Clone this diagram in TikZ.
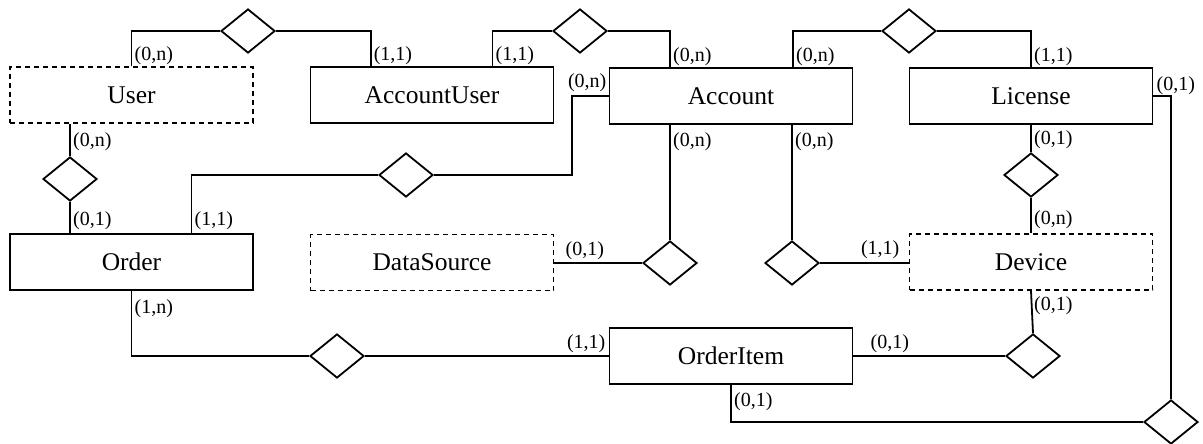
\documentclass[tikz,border=0pt]{standalone}
\usepackage{fontspec}
\setmainfont{Liberation Serif}
\usetikzlibrary{shapes.geometric}

\tikzset{
  entity/.style={draw, line width=1.8pt, minimum width=243pt, minimum height=56pt,
    inner sep=0pt, font=\fontsize{25.5}{30}\selectfont},
  weakentity/.style={entity, dash pattern=on 5pt off 4pt},
  rel/.style={draw, diamond, line width=1.8pt, minimum width=54pt, minimum height=44pt,
    inner sep=0pt},
  card/.style={inner sep=1pt, font=\fontsize{20}{24}\selectfont},
  link/.style={line width=1.8pt},
}

\begin{document}
\begin{tikzpicture}[x=1pt, y=-1pt]
\useasboundingbox (0,0) rectangle (1203,444);

% entities
\node[weakentity] (user)        at (131.5, 95)  {User};
\node[entity]     (accountuser) at (432, 95)    {AccountUser};
\node[entity]     (account)     at (731, 96)    {Account};
\node[entity]     (license)     at (1031, 96)   {License};
\node[entity]     (order)       at (131.5, 262) {Order};
\node[weakentity] (datasource)  at (432, 262.5) {DataSource};
\node[weakentity] (device)      at (1031, 262)  {Device};
\node[entity]     (orderitem)   at (731, 356)   {OrderItem};

% relationships
\node[rel] (d1)  at (248, 31)   {};
\node[rel] (d2)  at (580, 31)   {};
\node[rel] (d3)  at (909, 31)   {};
\node[rel] (d4)  at (70, 179)   {};
\node[rel] (d5)  at (406, 175)  {};
\node[rel] (d6)  at (670, 263)  {};
\node[rel] (d7)  at (792, 263)  {};
\node[rel] (d8)  at (1031, 175) {};
\node[rel] (d9)  at (337, 356)  {};
\node[rel] (d10) at (1033, 356) {};
\node[rel] (d11) at (1171, 422) {};

% attachment points on the entity borders
\coordinate (au1)  at ([xshift=61pt]accountuser.north west);
\coordinate (au2)  at ([xshift=-62pt]accountuser.north east);
\coordinate (acc1) at ([xshift=-61pt]account.north);
\coordinate (acc2) at ([xshift=62pt]account.north);
\coordinate (us)   at (user.south -| d4.north);
\coordinate (on1)  at (order.north -| d4.south);
\coordinate (on2)  at ([xshift=60pt]order.north);
\coordinate (bend) at ([xshift=-37pt]account.west);
\coordinate (as1)  at (account.south -| d6.north);
\coordinate (as2)  at (account.south -| d7.north);
\coordinate (dse)  at (d6.west -| datasource.east);
\coordinate (dvw)  at (d7.east -| device.west);

% connectors
\draw[link] (user.north) |- (d1.west);
\draw[link] (d1.east) -| (au1);
\draw[link] (au2) |- (d2.west);
\draw[link] (d2.east) -| (acc1);
\draw[link] (acc2) |- (d3.west);
\draw[link] (d3.east) -| (license.north);
\draw[link] (us) -- (d4.north);
\draw[link] (d4.south) -- (on1);
\draw[link] (on2) |- (d5.west);
\draw[link] (d5.east) -| (bend) -- (account.west);
\draw[link] (as1) -- (d6.north);
\draw[link] (d6.west) -- (dse);
\draw[link] (as2) -- (d7.north);
\draw[link] (d7.east) -- (dvw);
\draw[link] (license.south) -- (d8.north);
\draw[link] (d8.south) -- (device.north);
\draw[link] (order.south) |- (d9.west);
\draw[link] (d9.east) -- (orderitem.west);
\draw[link] (orderitem.east) -- (d10.west);
\draw[link] (device.south) -- (d10.north);
\draw[link] (orderitem.south) |- (d11.west);
\draw[link] (license.east) -| (d11.north);

% cardinalities
\node[card, anchor=south west, xshift=2pt] (c1)  at (user.north)    {(0,n)};
\node[card, anchor=south west, xshift=2pt] (c2)  at (au1)           {(1,1)};
\node[card, anchor=south west, xshift=2pt] (c3)  at (au2)           {(1,1)};
\node[card, anchor=south west, xshift=2pt] (c4)  at (acc1)          {(0,n)};
\node[card, anchor=south west, xshift=2pt] (c5)  at (acc2)          {(0,n)};
\node[card, anchor=south west, xshift=2pt] (c6)  at (license.north) {(1,1)};
\node[card, anchor=north west, xshift=2pt, yshift=-8pt] (c7) at (us) {(0,n)};
\node[card, anchor=south west, xshift=2pt, yshift=2pt] (c8) at (on1) {(0,1)};
\node[card, anchor=south west, xshift=2pt, yshift=2pt] (c9) at (on2) {(1,1)};
\node[card, anchor=south east, xshift=-1pt, yshift=3pt] (c10) at (account.west) {(0,n)};
\node[card, anchor=north west, xshift=2pt, yshift=-7pt] (c11) at (as1) {(0,n)};
\node[card, anchor=north west, xshift=2pt, yshift=-7pt] (c12) at (as2) {(0,n)};
\node[card, anchor=south west, xshift=10pt, yshift=2pt] (c13) at (dse) {(0,1)};
\node[card, anchor=south east, xshift=-8pt, yshift=3pt] (c14) at (dvw) {(1,1)};
\node[card, anchor=north west, xshift=2pt, yshift=-5pt] (c15) at (license.south) {(0,1)};
\node[card, anchor=south west, xshift=2pt, yshift=3pt] (c16) at (device.north) {(0,n)};
\node[card, anchor=south west, xshift=2pt] (c17) at (license.east) {(0,1)};
\node[card, anchor=north west, xshift=2pt, yshift=-8pt] (c18) at (order.south) {(1,n)};
\node[card, anchor=south east, xshift=-2pt, yshift=2pt] (c19) at (orderitem.west) {(1,1)};
\node[card, anchor=south west, xshift=16pt, yshift=2pt] (c20) at (orderitem.east) {(0,1)};
\node[card, anchor=north west, xshift=2pt, yshift=-5pt] (c21) at (device.south) {(0,1)};
\node[card, anchor=north west, xshift=2pt, yshift=-7pt] (c22) at (orderitem.south) {(0,1)};
\end{tikzpicture}
\end{document}
